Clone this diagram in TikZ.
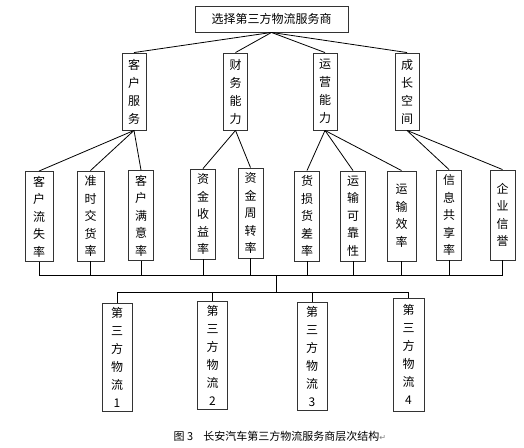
\documentclass[tikz,border=0pt]{standalone}
\usepackage{fontspec}
\setmainfont{Noto Sans CJK SC}
\newfontfamily\markfont{DejaVu Sans}
\usepackage{tikz}

\begin{document}
\begin{tikzpicture}
					[x=1pt,y=-1pt,line width=0.8pt,
					box/.style={rectangle,draw=black!80,line width=0.9pt,inner sep=0pt,align=center,font=\fontsize{12}{18}\selectfont},
					goal/.style={box,minimum width=153pt,minimum height=26pt},
					crit/.style={box,minimum width=24pt,minimum height=77pt},
					sub/.style={box,minimum width=25pt,minimum height=90pt,font=\fontsize{12}{17.5}\selectfont},
					alt/.style={box,minimum width=30pt,minimum height=108pt}]
					\useasboundingbox (0,0) rectangle (524,447);
					% top level
					\node[goal] (top) at (271.5,19) {选择第三方物流服务商};
					% criteria
					\node[crit] (kf) at (134,91.5) {客\\户\\服\\务};
					\node[crit] (cw) at (235.5,91.5) {财\\务\\能\\力};
					\node[crit] (yy) at (325,91.5) {运\\营\\能\\力};
					\node[crit] (cz) at (407,91.5) {成\\长\\空\\间};
					% sub-criteria
					\node[sub,minimum width=28pt] (ls) at (39,216.5) {客\\户\\流\\失\\率};
					\node[sub,minimum width=27pt] (zs) at (90.5,216) {准\\时\\交\\货\\率};
					\node[sub] (my) at (141,215.5) {客\\户\\满\\意\\率};
					\node[sub] (sy) at (203,214) {资\\金\\收\\益\\率};
					\node[sub] (zz) at (250.5,213) {资\\金\\周\\转\\率};
					\node[sub] (hs) at (307,216) {货\\损\\货\\差\\率};
					\node[sub] (kk) at (353,216) {运\\输\\可\\靠\\性};
					\node[sub,minimum width=29pt] (xl) at (401.5,216) {运\\输\\效\\率};
					\node[sub] (gx) at (449,215) {信\\息\\共\\享\\率};
					\node[sub] (xy) at (502.5,215) {企\\业\\信\\誉};
					% alternatives
					\node[alt] (w1) at (117,357) {第\\三\\方\\物\\流\\1};
					\node[alt] (w2) at (212.5,355) {第\\三\\方\\物\\流\\2};
					\node[alt] (w3) at (312,356.5) {第\\三\\方\\物\\流\\3};
					\node[alt,minimum width=31pt,minimum height=113pt] (w4) at (408.5,354.5) {第\\三\\方\\物\\流\\4};
					\coordinate (bus) at (276,275);
					\coordinate (bus2) at (276,292);
					% goal to criteria
					\path (top.south) edge (kf.north);
					\path (top.south) edge (cw.north);
					\path (top.south) edge (yy.north);
					\path (top.south) edge (cz.north);
					% criteria to sub-criteria
					\path (kf.south) edge (ls.north);
					\path (kf.south) edge (zs.north);
					\path (kf.south) edge (my.north);
					\path (cw.south) edge (sy.north);
					\path (cw.south) edge (zz.north);
					\path (yy.south) edge (hs.north);
					\path (yy.south) edge (kk.north);
					\path (yy.south) edge (xl.north);
					\path (cz.south) edge (gx.north);
					\path (cz.south) edge (xy.north);
					% sub-criteria to alternatives
					\path (ls.south) edge (ls.south |- bus);
					\path (zs.south) edge (zs.south |- bus);
					\path (my.south) edge (my.south |- bus);
					\path (sy.south) edge (sy.south |- bus);
					\path (zz.south) edge (zz.south |- bus);
					\path (hs.south) edge (hs.south |- bus);
					\path (kk.south) edge (kk.south |- bus);
					\path (xl.south) edge (xl.south |- bus);
					\path (gx.south) edge (gx.south |- bus);
					\path (xy.south) edge (xy.south |- bus);
					\path (ls.south |- bus) edge (xy.south |- bus);
					\path (bus) edge (bus2);
					\path (w1.north |- bus2) edge (w4.north |- bus2);
					\path (w1.north |- bus2) edge (w1.north);
					\path (w2.north |- bus2) edge (w2.north);
					\path (w3.north |- bus2) edge (w3.north);
					\path (w4.north |- bus2) edge (w4.north);
					% caption
					\node[anchor=west,font=\fontsize{11}{13}\selectfont] (cap) at (170,436) {图 3\hspace{10pt}长安汽车第三方物流服务商层次结构{\markfont\color{black!50}\fontsize{8}{9}\selectfont ↵}};
\end{tikzpicture}
\end{document}
